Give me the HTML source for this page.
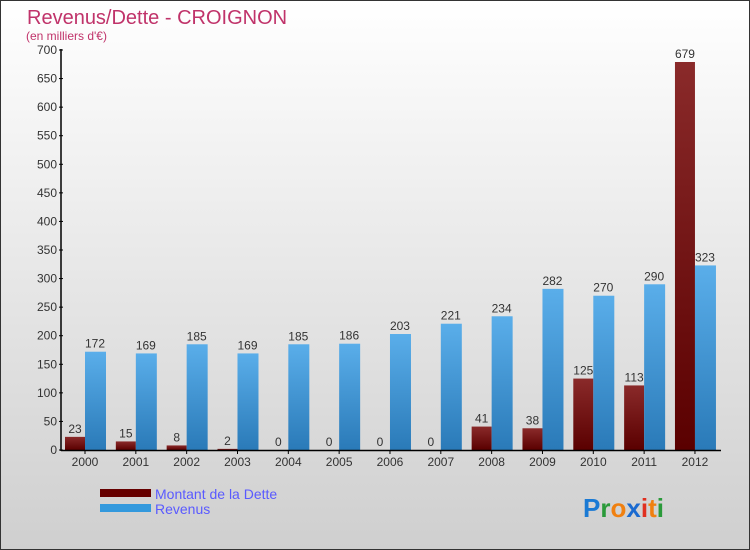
<!DOCTYPE html>
<html><head><meta charset="utf-8"><style>
body{margin:0}
#c{width:750px;height:550px;position:relative;box-sizing:border-box;border:1px solid #333;background:linear-gradient(#fff,#cfcfcf);font-family:"Liberation Sans",sans-serif;overflow:hidden}
</style></head><body>
<div id="c">
<svg id="s" width="750" height="550" style="position:absolute;left:-1px;top:-1px">
<defs>
<linearGradient id="gd" x1="0" y1="0" x2="0" y2="1"><stop offset="0" stop-color="#8a2a2a"/><stop offset="1" stop-color="#5a0000"/></linearGradient>
<linearGradient id="gr" x1="0" y1="0" x2="0" y2="1"><stop offset="0" stop-color="#5aaeea"/><stop offset="1" stop-color="#2a7ab8"/></linearGradient>
</defs>
<text x="27" y="24" font-size="20" fill="#c0336a">Revenus/Dette - CROIGNON</text>
<text x="26" y="40" font-size="12" fill="#c0336a">(en milliers d'€)</text>
<g id="bars"></g>
<g id="axes"></g>
<rect x="100" y="489" width="51" height="8" fill="#660000"/>
<text x="155" y="499" font-size="14" fill="#5a5aff">Montant de la Dette</text>
<rect x="100" y="504" width="51" height="8" fill="#3399dd"/>
<text x="155" y="514" font-size="14" fill="#5a5aff">Revenus</text>
<text x="583" y="517" font-size="26" font-weight="bold"><tspan fill="#1a7ad4">P</tspan><tspan fill="#2a9a3a">r</tspan><tspan fill="#f08010">o</tspan><tspan fill="#1a6ad0">x</tspan><tspan fill="#e03020">i</tspan><tspan fill="#f08010">t</tspan><tspan fill="#2a9a3a">i</tspan></text>
</svg>
</div>
<script>
const years=["2000","2001","2002","2003","2004","2005","2006","2007","2008","2009","2010","2011","2012"];
const dette=[23,15,8,2,0,0,0,0,41,38,125,113,679];
const revenus=[172,169,185,169,185,186,203,221,234,282,270,290,323];
const yTicks=[0,50,100,150,200,250,300,350,400,450,500,550,600,650,700];
const NS="http://www.w3.org/2000/svg";
const y0=450,yTop=50,yMax=700;
function y(v){return y0-v/yMax*(y0-yTop);}
function xc(i){return 85+i*50.83;}
function mk(t,a,p){const e=document.createElementNS(NS,t);for(const k in a)e.setAttribute(k,a[k]);p.appendChild(e);return e;}
const B=document.getElementById('bars'),A=document.getElementById('axes');
years.forEach((yr,i)=>{
 const c=xc(i);
 const d=mk('rect',{x:c-20,y:y(dette[i]),width:20,height:y0-y(dette[i]),fill:'url(#gd)'},B);
 
 
 const r=mk('rect',{x:c,y:y(revenus[i]),width:21,height:y0-y(revenus[i]),fill:'url(#gr)'},B);
 
 
 const t1=mk('text',{x:c-10,y:y(dette[i])-4,'font-size':12,fill:'#333','text-anchor':'middle'},B);t1.textContent=dette[i];
 
 
 const t2=mk('text',{x:c+10,y:y(revenus[i])-4,'font-size':12,fill:'#333','text-anchor':'middle'},B);t2.textContent=revenus[i];
 
 
 const tl=mk('text',{x:c,y:466,'font-size':12,fill:'#333','text-anchor':'middle'},A);tl.textContent=yr;
 
 
 mk('line',{x1:c,x2:c,y1:450,y2:454,stroke:'#000'},A);
});
yTicks.forEach(v=>{
 mk('line',{x1:59,x2:63,y1:y(v),y2:y(v),stroke:'#000'},A);
 const t=mk('text',{x:57,y:y(v)+4,'font-size':12,fill:'#333','text-anchor':'end'},A);t.textContent=v;
 
 
});
mk('line',{x1:61,x2:61,y1:49,y2:451,stroke:'#000','stroke-width':1.5},A);
mk('line',{x1:61,x2:721,y1:450.5,y2:450.5,stroke:'#000','stroke-width':1.5},A);
</script>
</body></html>
